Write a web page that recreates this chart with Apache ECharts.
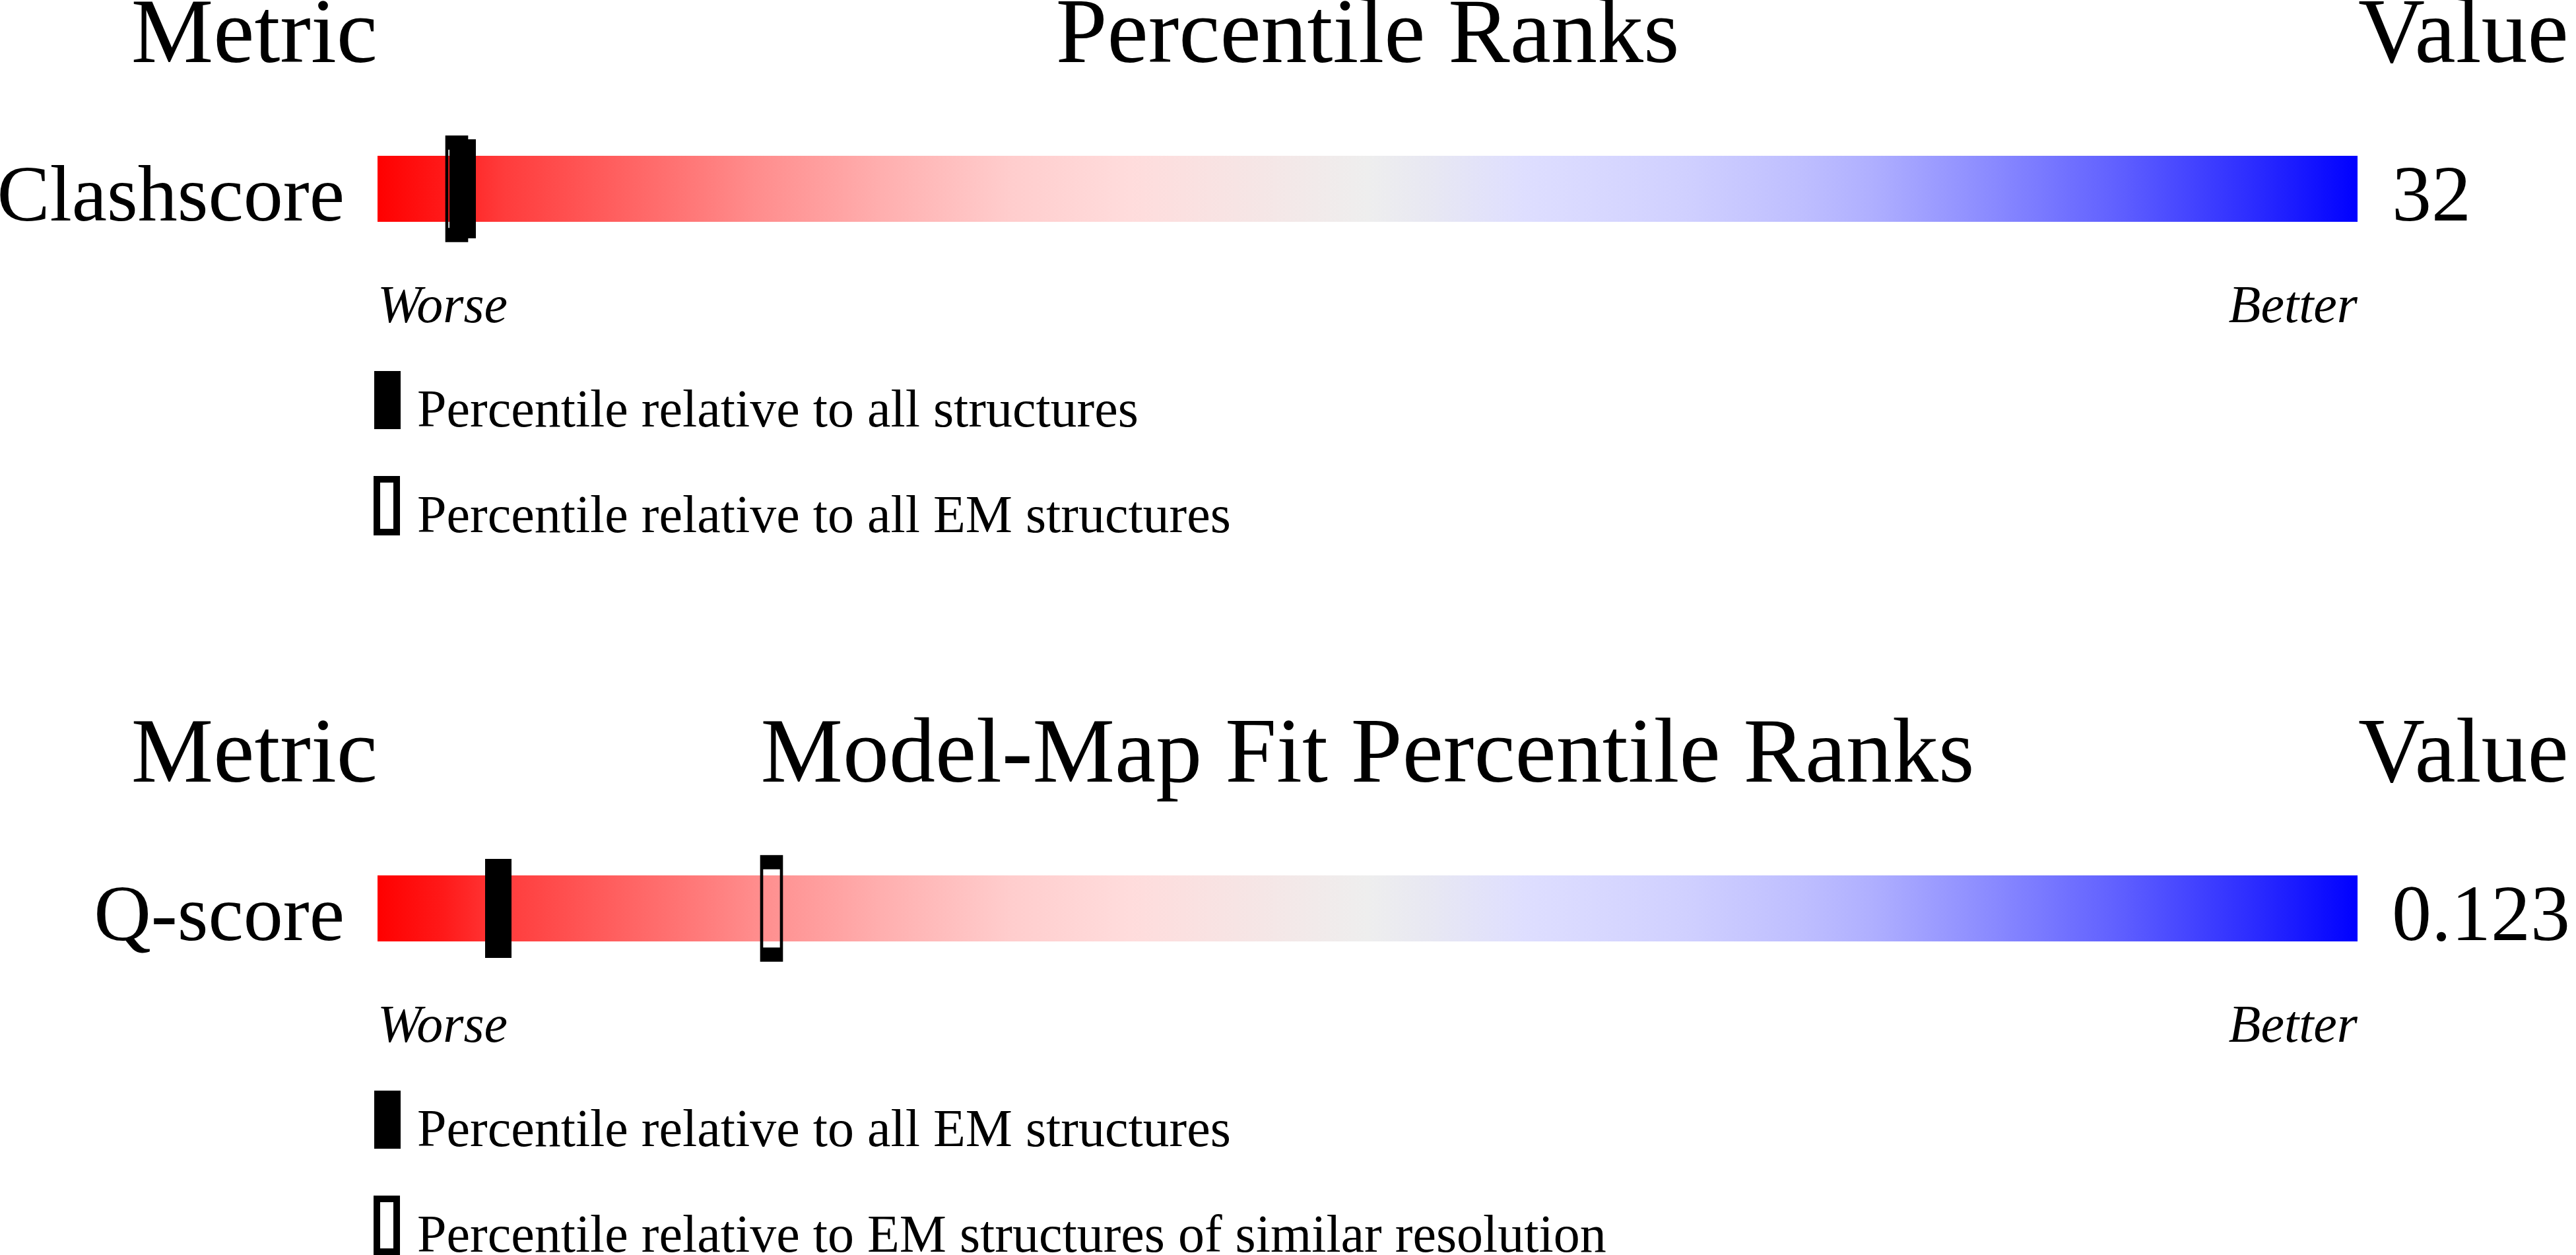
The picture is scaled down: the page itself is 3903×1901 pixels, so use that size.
<!DOCTYPE html>
<html>
<head>
<meta charset="utf-8">
<script src="https://cdn.jsdelivr.net/npm/echarts@6/dist/echarts.min.js"></script>
<style>
html,body{margin:0;padding:0;background:#fff;overflow:hidden;}
#chart{width:3903px;height:1901px;}
</style>
</head>
<body>
<div id="chart"></div>
<script>
// ---- data ----
const metrics = ['Clashscore', 'Q-score'];
const metricValues = ['32', '0.123'];
const panelTitles = ['Percentile Ranks', 'Model-Map Fit Percentile Ranks'];
const headerLeft = 'Metric';
const headerRight = 'Value';
const scaleEnds = ['Worse', 'Better'];
const filledPercentile = [4.3, 6.1];
const hollowPercentile = [4.0, 19.9];
const legendFilled = ['Percentile relative to all structures', 'Percentile relative to all EM structures'];
const legendHollow = ['Percentile relative to all EM structures', 'Percentile relative to EM structures of similar resolution'];
const scaleMin = 0, scaleMax = 100;

// ---- style ----
const FONT = '"Liberation Serif", "Times New Roman", Times, serif';
const gradStops = [
  [0, 'rgb(255,0,0)'], [0.033, 'rgb(255,25,25)'], [0.064, 'rgb(255,60,60)'],
  [0.128, 'rgb(255,100,100)'], [0.19, 'rgb(255,140,140)'], [0.255, 'rgb(255,175,175)'],
  [0.32, 'rgb(255,205,205)'], [0.38, 'rgb(255,220,220)'], [0.44, 'rgb(246,229,229)'],
  [0.5, 'rgb(238,238,238)'], [0.53, 'rgb(232,232,242)'], [0.58, 'rgb(222,222,255)'],
  [0.66, 'rgb(208,208,255)'], [0.72, 'rgb(190,190,255)'], [0.755, 'rgb(175,175,255)'],
  [0.82, 'rgb(135,135,255)'], [0.88, 'rgb(95,95,255)'], [0.946, 'rgb(45,45,255)'],
  [1, 'rgb(0,0,255)']
];
const BLOCK = 1090;
const BAR_LEFT = 572, BAR_W = 3000;

const chart = echarts.init(document.getElementById('chart'), null, {renderer: 'canvas'});

const grids = [], xAxes = [], yAxes = [], series = [], graphics = [];

metrics.forEach((m, i) => {
  const off = i * BLOCK;
  grids.push({left: BAR_LEFT, width: BAR_W, top: 211 + off, height: 150, outerBoundsMode: 'none', containLabel: false});
  xAxes.push({
    gridIndex: i, type: 'value', min: scaleMin, max: scaleMax, interval: scaleMax - scaleMin,
    axisLine: {show: false}, axisTick: {show: false}, splitLine: {show: false},
    axisLabel: {
      show: true, margin: 66, fontFamily: FONT, fontSize: 80, fontStyle: 'italic', color: '#000', lineHeight: 80,
      alignMinLabel: 'left', alignMaxLabel: 'right',
      formatter: v => (v === scaleMin ? scaleEnds[0] : scaleEnds[1])
    }
  });
  yAxes.push({
    gridIndex: i, type: 'category', data: [m],
    axisLine: {show: false}, axisTick: {show: false}, splitLine: {show: false},
    axisLabel: {margin: 50, fontFamily: FONT, fontSize: 120, color: '#000', verticalAlign: 'top', lineHeight: 32}
  });
  series.push({
    type: 'bar', xAxisIndex: i, yAxisIndex: i, barWidth: 100, silent: true, z: 1,
    data: [scaleMax],
    itemStyle: {color: new echarts.graphic.LinearGradient(0, 0, 1, 0, gradStops.map(s => ({offset: s[0], color: s[1]})))},
    label: {show: true, position: 'right', distance: 52, fontFamily: FONT, fontSize: 120, color: '#000',
      verticalAlign: 'top', lineHeight: 32, formatter: () => metricValues[i]}
  });
  series.push({
    type: 'scatter', xAxisIndex: i, yAxisIndex: i, silent: true, clip: false, z: 3,
    symbol: 'rect', symbolSize: [30, 140],
    data: [[hollowPercentile[i], m]],
    itemStyle: {color: 'rgba(0,0,0,0)', borderColor: '#000', borderWidth: 10, opacity: 1}
  });
  series.push({
    type: 'scatter', xAxisIndex: i, yAxisIndex: i, silent: true, clip: false, z: 4,
    symbol: 'rect', symbolSize: [40, 150],
    data: [[filledPercentile[i], m]],
    itemStyle: {color: '#000', opacity: 1}
  });

  // headers
  const hy = 57.5 + off;
  graphics.push({type: 'text', x: BAR_LEFT, y: hy, style: {text: headerLeft, fontFamily: FONT, fontSize: 140, fill: '#000', align: 'right', verticalAlign: 'middle'}});
  graphics.push({type: 'text', x: BAR_LEFT + BAR_W / 2, y: hy, style: {text: panelTitles[i], fontFamily: FONT, fontSize: 140, fill: '#000', align: 'center', verticalAlign: 'middle'}});
  graphics.push({type: 'text', x: BAR_LEFT + BAR_W + 1, y: hy, style: {text: headerRight, fontFamily: FONT, fontSize: 140, fill: '#000', align: 'left', verticalAlign: 'middle'}});

  // legend
  graphics.push({type: 'rect', shape: {x: 567, y: 562 + off, width: 40, height: 88}, style: {fill: '#000'}});
  graphics.push({type: 'text', x: 632, y: 625 + off, style: {text: legendFilled[i], fontFamily: FONT, fontSize: 80, fill: '#000', align: 'left', verticalAlign: 'middle'}});
  graphics.push({type: 'rect', shape: {x: 571, y: 726, width: 30, height: 80}, position: [0, off], style: {fill: 'none', stroke: '#000', lineWidth: 10}});
  graphics.push({type: 'text', x: 632, y: 785 + off, style: {text: legendHollow[i], fontFamily: FONT, fontSize: 80, fill: '#000', align: 'left', verticalAlign: 'middle'}});
});

chart.setOption({
  animation: false,
  backgroundColor: '#fff',
  grid: grids,
  xAxis: xAxes,
  yAxis: yAxes,
  series: series,
  graphic: graphics
});
</script>
</body>
</html>
